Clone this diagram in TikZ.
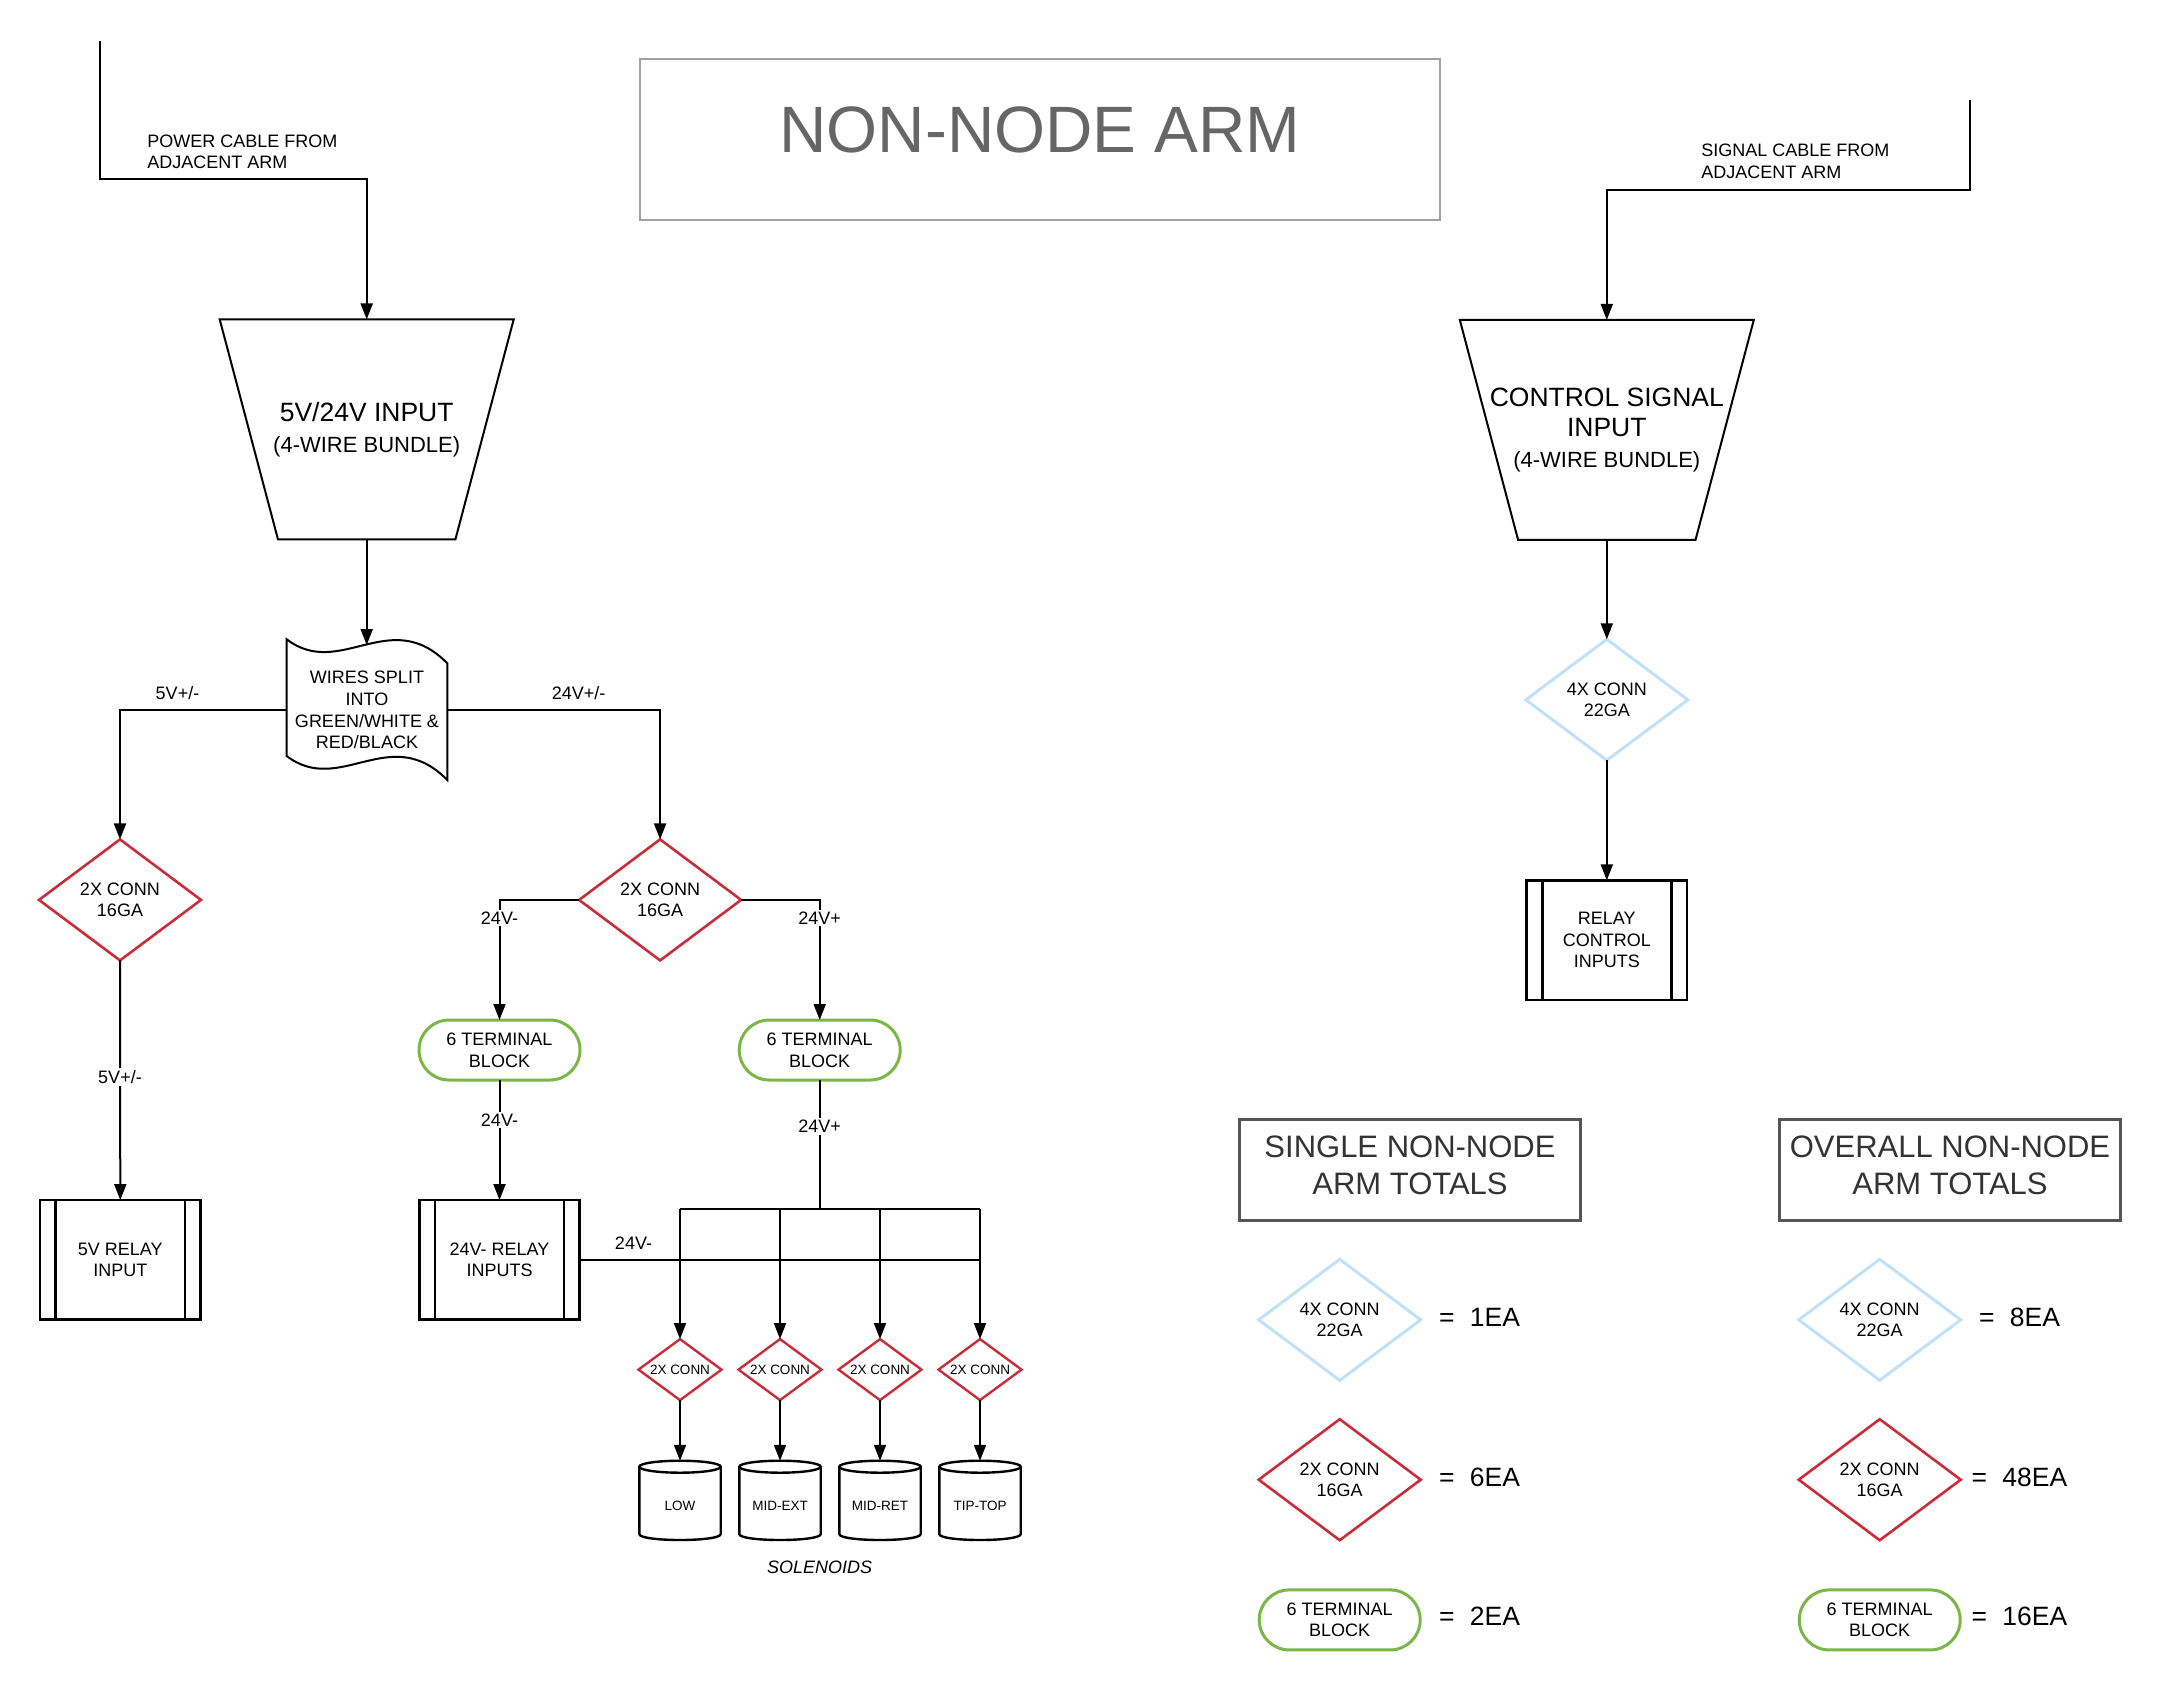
\documentclass[tikz,border=0pt]{standalone}
\usepackage{fontspec}
\setmainfont{Liberation Sans}
\usetikzlibrary{shapes.geometric,arrows.meta,calc}
\definecolor{cred}{HTML}{C92D39}
\definecolor{cblue}{HTML}{BFE2F7}
\definecolor{cgreen}{HTML}{7AB648}
\definecolor{ctitle}{HTML}{666666}
\definecolor{cbox}{HTML}{A0A0A0}
\definecolor{chead}{HTML}{555555}
\definecolor{chtext}{HTML}{333333}
\begin{document}
\begin{tikzpicture}[x=1pt,y=-1pt,
  txt/.style={font=\fontsize{18}{21.6}\selectfont, align=center, inner sep=0pt, outer sep=0pt},
  lbl/.style={txt, fill=white, inner sep=2pt},
  plain/.style={line width=2pt},
  arr/.style={plain, -{Triangle[length=16pt,width=12pt]}},
  conn/.style={txt, diamond, draw=cred, line width=2.6pt, aspect=1.35, minimum width=162pt, minimum height=121pt},
  bconn/.style={conn, draw=cblue, line width=3pt},
  sconn/.style={conn, minimum width=83pt, minimum height=61pt, line width=2.4pt, font=\fontsize{13.5}{16}\selectfont},
  tblock/.style={txt, rectangle, draw=cgreen, line width=3pt, rounded corners=30pt, minimum width=161pt, minimum height=60pt},
  relay/.style={txt, rectangle, draw, line width=2.6pt, minimum width=160.5pt, minimum height=119.5pt},
  trap/.style={txt, minimum width=294pt, minimum height=220pt, font=\fontsize{26.5}{30.6}\selectfont},
  cyl/.style={txt, minimum width=81.4pt, minimum height=79.3pt},
  eqt/.style={txt, font=\fontsize{26.5}{30}\selectfont},
  head/.style={txt, text=chtext, font=\fontsize{31}{36.5}\selectfont},
  headbox/.style={rectangle, draw=chead, line width=2.6pt, minimum width=341.2pt, minimum height=100.8pt, inner sep=0pt}
]
\useasboundingbox (0,0) rectangle (2180,1690);

% ---------- title ----------
\node[rectangle, draw=cbox, line width=2pt, minimum width=800.5pt, minimum height=160.3pt, inner sep=0pt] (titlebox) at (1040,139.5) {};
\node[txt, text=ctitle, font=\fontsize{65.6}{70}\selectfont] (title) at (1040,130) {NON-NODE ARM};

% ---------- power side ----------
\coordinate (pwrtop) at (99.6,40.7);
\coordinate (pwrbend) at (99.6,178.9);
\node[txt, anchor=west, align=left] (pwrtxt) at (147.3,151.8) {POWER CABLE FROM\\ADJACENT ARM};

\node[trap] (trap1) at (366.7,429.4) {5V/24V INPUT\\{\fontsize{22}{30.6}\selectfont (4-WIRE BUNDLE)}};
\draw[line width=2pt] (trap1.north west) -- (trap1.north east) -- ($(trap1.south east)+(-58.3,0)$) -- ($(trap1.south west)+(58.3,0)$) -- cycle;
\draw[arr] (pwrtop) -- (pwrbend) -| (trap1.north);

\node[txt, minimum width=160.6pt, minimum height=100pt] (wave) at (367,710) {WIRES SPLIT\\INTO\\GREEN/WHITE \&\\RED/BLACK};
\draw[line width=2pt] (286.7,639.3) .. controls (340,680) and (390,605) .. (447.3,663.3) -- (447.3,780) .. controls (390,721.7) and (340,796.7) .. (286.7,756) -- cycle;
\coordinate (wavein) at (366.7,645);
\draw[arr] (trap1.south) -- (wavein);

\node[conn] (d5) at (120,899.9) {2X CONN\\16GA};
\node[conn] (d24) at (660.1,899.9) {2X CONN\\16GA};
\draw[arr] (wave.west) -| (d5.north);
\draw[arr] (wave.east) -| (d24.north);
\node[txt] (l5a) at (177.5,692.8) {5V+/-};
\node[txt] (l24a) at (578.7,692.8) {24V+/-};

\node[relay] (relay5) at (120.3,1259.8) {5V RELAY\\INPUT};
\draw[arr] (d5.south) -- (relay5.north);
\node[lbl] (l5b) at (120,1077) {5V+/-};

\node[tblock] (tbL) at (499.5,1050) {6 TERMINAL\\BLOCK};
\node[tblock] (tbR) at (819.7,1050) {6 TERMINAL\\BLOCK};
\draw[arr] (d24.west) -| (tbL.north);
\draw[arr] (d24.east) -| (tbR.north);
\node[lbl] (lm1) at (499.5,918.1) {24V-};
\node[lbl] (lp1) at (819.7,918.1) {24V+};

\node[relay] (relay24) at (499.5,1259.8) {24V- RELAY\\INPUTS};
\draw[arr] (tbL.south) -- (relay24.north);
\node[lbl] (lm2) at (499.5,1120.1) {24V-};

\coordinate (bus) at (819.7,1208.7);
\draw[plain] (tbR.south) -- (bus);
\node[lbl] (lp2) at (819.7,1126.4) {24V+};

\foreach \n/\x/\t in {1/680/LOW,2/780/MID-EXT,3/880/MID-RET,4/980/TIP-TOP}{
  \node[sconn] (sd\n) at (\x,1369.6) {2X CONN};
  \node[cyl] (cy\n) at (\x,1500.4) {};
  \node[txt, font=\fontsize{13.5}{16}\selectfont] (cyt\n) at (\x,1505.7) {\t};
  \draw[line width=2.4pt] (\x,1466.7) ellipse [x radius=40.7, y radius=6];
  \draw[line width=2.4pt] ({\x-40.7},1466.7) -- ({\x-40.7},1534) .. controls ({\x-40.7},1542) and ({\x+40.7},1542) .. ({\x+40.7},1534) -- ({\x+40.7},1466.7);
  \draw[arr] (sd\n.south) -- (cy\n.north);
}
\draw[plain] (sd1.north |- bus) -- (sd4.north |- bus);
\foreach \n in {1,2,3,4}{ \draw[arr] (sd\n.north |- bus) -- (sd\n.north); }
\draw[plain] (relay24.east) -- (sd4.north |- relay24.east);
\node[txt] (lm3) at (633.5,1242.7) {24V-};
\node[txt, font=\fontsize{18}{21.6}\itshape] (sol) at (819.7,1567.4) {SOLENOIDS};

% ---------- signal side ----------
\coordinate (sigtop) at (1970,100.4);
\coordinate (sigbend) at (1970,189.5);
\node[txt, anchor=west, align=left] (sigtxt) at (1701.3,161.4) {SIGNAL CABLE FROM\\ADJACENT ARM};
\node[trap] (trap2) at (1606.8,429.9) {CONTROL SIGNAL\\INPUT\\{\fontsize{22}{30.6}\selectfont (4-WIRE BUNDLE)}};
\draw[line width=2pt] (trap2.north west) -- (trap2.north east) -- ($(trap2.south east)+(-58.3,0)$) -- ($(trap2.south west)+(58.3,0)$) -- cycle;
\draw[arr] (sigtop) -- (sigbend) -| (trap2.north);
\node[bconn] (bd) at (1606.8,699.8) {4X CONN\\22GA};
\draw[arr] (trap2.south) -- (bd.north);
\node[relay] (relayc) at (1606.8,940.1) {RELAY\\CONTROL\\INPUTS};
\draw[arr] (bd.south) -- (relayc.north);

\foreach \r in {relay5,relay24,relayc}{
  \draw[line width=2.6pt] ([xshift=15.7pt]\r.north west) -- ([xshift=15.7pt]\r.south west);
  \draw[line width=2.6pt] ([xshift=-15.7pt]\r.north east) -- ([xshift=-15.7pt]\r.south east);
}

% ---------- totals ----------
\node[headbox] (singlebox) at (1410,1170) {};
\node[head] (singletxt) at (1410,1165.3) {SINGLE NON-NODE\\ARM TOTALS};
\node[headbox] (overallbox) at (1950,1170) {};
\node[head] (overalltxt) at (1950,1165.3) {OVERALL NON-NODE\\ARM TOTALS};

\node[bconn] (sb) at (1339.7,1319.8) {4X CONN\\22GA};
\node[conn] (sr) at (1339.7,1479.7) {2X CONN\\16GA};
\node[tblock] (st) at (1339.7,1619.9) {6 TERMINAL\\BLOCK};
\node[eqt] (sbq) at (1479.5,1317.3) {=\hspace{15.3pt}1EA};
\node[eqt] (srq) at (1479.5,1477.2) {=\hspace{15.3pt}6EA};
\node[eqt] (stq) at (1479.5,1616.5) {=\hspace{15.3pt}2EA};

\node[bconn] (ob) at (1879.7,1319.8) {4X CONN\\22GA};
\node[conn] (or) at (1879.7,1479.7) {2X CONN\\16GA};
\node[tblock] (ot) at (1879.7,1619.9) {6 TERMINAL\\BLOCK};
\node[eqt] (obq) at (2019.5,1317.3) {=\hspace{15.3pt}8EA};
\node[eqt] (orq) at (2019.5,1477.2) {=\hspace{15.3pt}48EA};
\node[eqt] (otq) at (2019.5,1616.5) {=\hspace{15.3pt}16EA};
\end{tikzpicture}
\end{document}
